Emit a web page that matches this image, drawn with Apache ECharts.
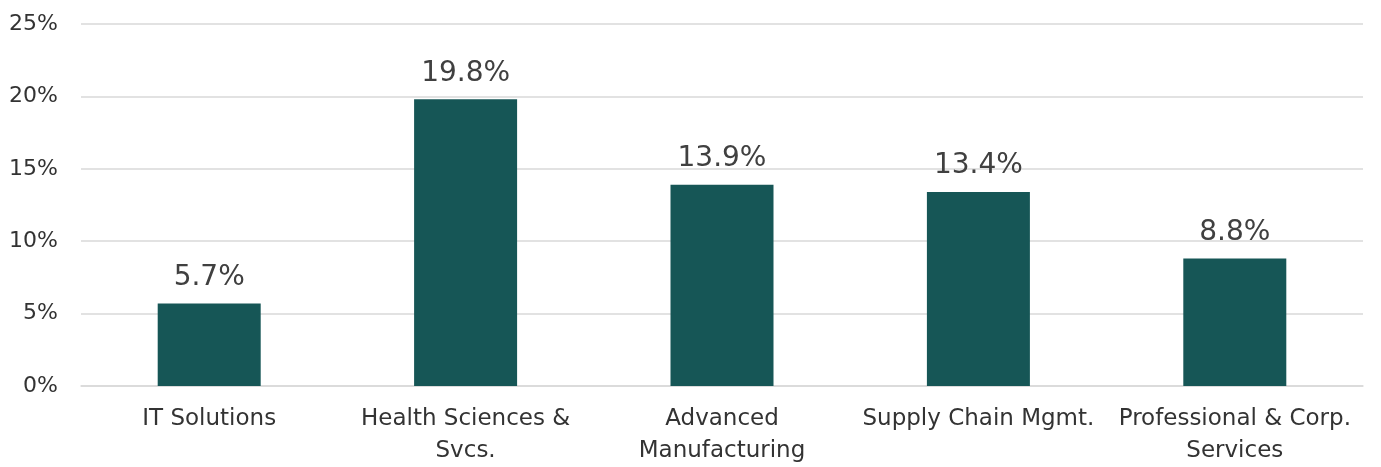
<!DOCTYPE html>
<html>
<head>
<meta charset="utf-8">
<script src="https://cdn.jsdelivr.net/npm/echarts@6/dist/echarts.min.js"></script>
<style>
  html, body { margin: 0; padding: 0; background: #fff; width: 100%; height: 100%; overflow: hidden; }
  #box { width: 1381px; height: 467px; }
</style>
</head>
<body>
<div id="box"></div>
<script>
// data
const categories = ['IT Solutions', 'Health Sciences &\nSvcs.', 'Advanced\nManufacturing', 'Supply Chain Mgmt.', 'Professional & Corp.\nServices'];
const values = [5.7, 19.8, 13.9, 13.4, 8.8];
const yTicks = [0, 5, 10, 15, 20, 25];

const myChart = echarts.init(document.getElementById('box'));
const option = {
  animation: false,
  grid: { left: 81, right: 18, top: 24, bottom: 78 },
  xAxis: {
    type: 'category',
    data: categories,
    axisTick: { show: false },
    axisLine: { lineStyle: { color: '#d9d9d9', width: 1.5 } },
    axisLabel: {
      color: '#333',
      fontFamily: 'DejaVu Sans',
      fontSize: 23,
      lineHeight: 32,
      margin: 17,
      interval: 0
    }
  },
  yAxis: {
    type: 'value',
    min: yTicks[0],
    max: yTicks[yTicks.length - 1],
    interval: 5,
    axisLine: { show: false },
    axisTick: { show: false },
    splitLine: { lineStyle: { color: '#d9d9d9', width: 1.5 } },
    axisLabel: {
      color: '#333',
      fontFamily: 'DejaVu Sans',
      fontSize: 22,
      margin: 23,
      formatter: v => v + '%'
    }
  },
  series: [
    {
      type: 'bar',
      data: values,
      barWidth: 103,
      itemStyle: { color: '#165656' },
      label: {
        show: true,
        position: 'top',
        distance: 12,
        color: '#404040',
        fontFamily: 'DejaVu Sans',
        fontSize: 28,
        formatter: p => p.value.toFixed(1) + '%'
      }
    }
  ]
};
myChart.setOption(option);
</script>
</body>
</html>
